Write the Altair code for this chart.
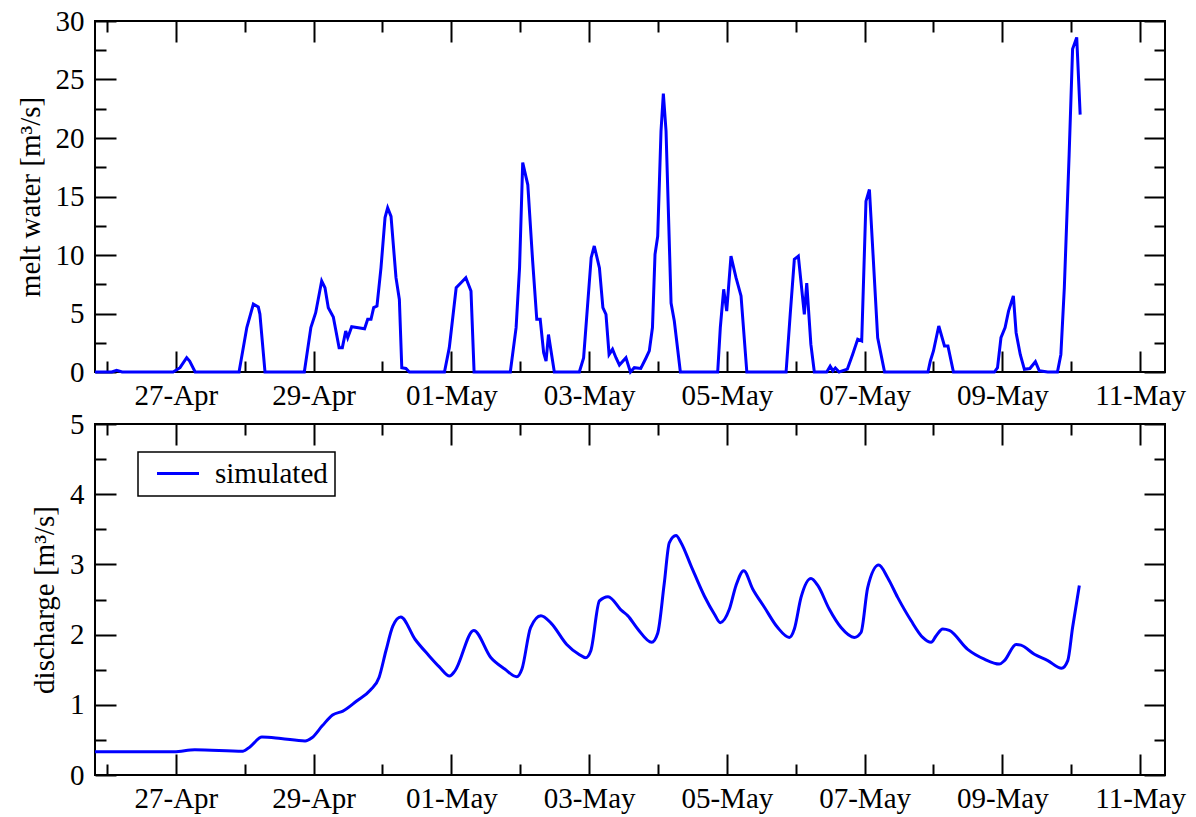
import altair as alt
import pandas as pd

# ---------------- data ----------------
# time given as days after 26-Apr 00:00
melt_days = [-0.174, 0.07, 0.14, 0.22, 0.96, 1.06, 1.157, 1.2, 1.28, 1.917, 2.03, 2.125, 2.197, 2.22, 2.294,
             2.865, 2.96, 3.03, 3.117, 3.165, 3.213, 3.286, 3.37, 3.417, 3.466, 3.495, 3.553, 3.65, 3.74, 3.785,
             3.833, 3.872, 3.92, 3.978, 4.037, 4.075, 4.124, 4.196, 4.245, 4.28, 4.34, 4.39, 4.9, 4.97, 5.07,
             5.14, 5.21, 5.285, 5.33, 5.856, 5.94, 5.99, 6.036, 6.11, 6.18, 6.24, 6.29, 6.34, 6.375, 6.41, 6.495,
             6.858, 6.92, 7.03, 7.075, 7.15, 7.2, 7.245, 7.29, 7.34, 7.39, 7.44, 7.535, 7.6, 7.656, 7.75, 7.826,
             7.874, 7.92, 7.957, 7.996, 8.044, 8.078, 8.117, 8.19, 8.237, 8.325, 8.867, 8.905, 8.954, 8.998,
             9.06, 9.133, 9.206, 9.29, 9.86, 9.92, 9.98, 10.038, 10.125, 10.16, 10.22, 10.27, 10.45, 10.5, 10.54,
             10.575, 10.63, 10.75, 10.826, 10.9, 10.958, 11.02, 11.07, 11.19, 11.29, 11.92, 11.955, 12.0, 12.077,
             12.16, 12.21, 12.29, 12.885, 12.93, 12.98, 13.04, 13.09, 13.16, 13.2, 13.26, 13.32, 13.4, 13.48,
             13.537, 13.66, 13.8, 13.85, 13.9, 13.97, 14.02, 14.08, 14.13]
melt_vals = [0, 0, 0.15, 0, 0, 0.37, 1.22, 0.94, 0, 0, 3.8, 5.8, 5.55, 4.95, 0,
             0, 3.8, 5.07, 7.78, 7.2, 5.5, 4.7, 2.08, 2.08, 3.5, 2.93, 3.87, 3.79, 3.7, 4.5,
             4.5, 5.5, 5.64, 8.9, 13.2, 14.04, 13.3, 8.06, 6.2, 0.37, 0.3, 0, 0, 2.08, 7.2,
             7.63, 8.06, 6.92, 0, 0, 3.79, 8.9, 17.9, 16.0, 9.5, 4.5, 4.5, 1.65, 0.94, 3.2, 0,
             0, 1.2, 9.77, 10.77, 8.9, 5.5, 4.93, 1.5, 1.94, 1.22, 0.6, 1.22, 0, 0.37, 0.3, 1.2,
             1.8, 3.8, 10.06, 11.6, 20.6, 23.8, 20.6, 5.9, 4.36, 0, 0, 3.8, 7.07, 5.2,
             9.9, 8.06, 6.5, 0, 0, 4.93, 9.63, 9.9, 4.93, 7.6, 2.36, 0, 0, 0.5, 0.1,
             0.35, 0, 0.25, 1.5, 2.8, 2.65, 14.6, 15.6, 2.93, 0, 0, 0.94, 1.8, 3.93,
             2.22, 2.22, 0, 0, 0.37, 2.93, 3.8, 5.2, 6.5, 3.36, 1.5, 0.23, 0.3, 0.88,
             0.1, 0, 0, 1.5, 7.2, 18.6, 27.6, 28.6, 22.0]

dis_days = [-0.175, 0.975, 1.275, 1.975, 2.075, 2.25, 2.525, 2.875, 2.975, 3.125, 3.275, 3.425, 3.625,
            3.825, 3.95, 4.05, 4.15, 4.265, 4.475, 4.675, 4.825, 4.975, 5.05, 5.325, 5.575, 5.775, 5.95,
            6.025, 6.15, 6.3, 6.45, 6.675, 6.85, 6.95, 7.025, 7.15, 7.275, 7.475, 7.56, 7.706, 7.909, 7.996,
            8.09, 8.165, 8.262, 8.335, 8.48, 8.673, 8.82, 8.905, 9.036, 9.133, 9.245, 9.375, 9.545, 9.738,
            9.907, 9.98, 10.077, 10.222, 10.32, 10.488, 10.658, 10.85, 10.948, 11.045, 11.205, 11.335, 11.48,
            11.674, 11.844, 11.965, 12.037, 12.134, 12.23, 12.497, 12.739, 12.956, 13.03, 13.2, 13.27, 13.465,
            13.66, 13.86, 13.95, 14.02, 14.118]
dis_vals = [0.332, 0.33, 0.36, 0.34, 0.40, 0.54, 0.52, 0.485, 0.53, 0.70, 0.855, 0.91, 1.055,
            1.21, 1.39, 1.77, 2.12, 2.25, 1.93, 1.70, 1.54, 1.41, 1.48, 2.06, 1.67, 1.51, 1.40,
            1.51, 2.10, 2.27, 2.16, 1.86, 1.72, 1.67, 1.77, 2.48, 2.54, 2.34, 2.27, 2.08, 1.89, 2.02,
            2.72, 3.31, 3.41, 3.31, 2.98, 2.55, 2.29, 2.17, 2.36, 2.70, 2.91, 2.65, 2.39, 2.10,
            1.96, 2.08, 2.53, 2.80, 2.70, 2.36, 2.10, 1.96, 2.03, 2.67, 2.99, 2.81, 2.53,
            2.20, 1.96, 1.89, 1.98, 2.08, 2.06, 1.79, 1.65, 1.58, 1.63, 1.86, 1.85, 1.72,
            1.63, 1.52, 1.63, 2.10, 2.70]

series_name = "simulated"
melt_title = "melt water [m³/s]"
dis_title = "discharge [m³/s]"
melt_major = [0, 5, 10, 15, 20, 25, 30]
melt_minor = [2.5, 7.5, 12.5, 17.5, 22.5, 27.5]
dis_major = [0, 1, 2, 3, 4, 5]
dis_minor = [0.5, 1.5, 2.5, 3.5, 4.5]

base_time = pd.Timestamp("2013-04-26")
melt = pd.DataFrame({"time": base_time + pd.to_timedelta(melt_days, unit="D"), "melt": melt_vals})
dis = pd.DataFrame({"time": base_time + pd.to_timedelta(dis_days, unit="D"), "q": dis_vals,
                    "series": series_name})

# ---------------- styling ----------------
FONT = "Liberation Serif"
FS = 29
W, H = 1070, 351
BLUE = "#0000ff"

x_domain = [alt.DateTime(year=2013, month=4, date=25, hours=19, minutes=49),
            alt.DateTime(year=2013, month=5, date=11, hours=8, minutes=41)]
all_days = [(4, d) for d in range(26, 31)] + [(5, d) for d in range(1, 12)]
major_days = [alt.DateTime(year=2013, month=m, date=d) for m, d in all_days if d % 2 == 1]
minor_days = [alt.DateTime(year=2013, month=m, date=d) for m, d in all_days if d % 2 == 0]


def tick_axis(orient, offset, values, size):
    return alt.Axis(orient=orient, offset=offset, values=values, labels=False, domain=False, grid=False,
                    ticks=True, tickSize=size, tickWidth=2, tickColor="black", title=None)


def panel(df, field, ymax, ymaj, ymin, ytitle, legend=False):
    xs = alt.Scale(domain=x_domain)
    ys = alt.Scale(domain=[0, ymax], nice=False)
    specs = [
        (tick_axis("top", -H, major_days, 21), tick_axis("right", -W, ymaj, 21)),
        (tick_axis("bottom", -H, major_days, 21), tick_axis("left", -W, ymaj, 21)),
        (tick_axis("top", -H, minor_days, 11), tick_axis("right", -W, ymin, 11)),
        (tick_axis("bottom", -H, minor_days, 11), tick_axis("left", -W, ymin, 11)),
    ]
    layers = [
        alt.Chart(df).mark_line(strokeOpacity=0).encode(
            x=alt.X("time:T", scale=xs, axis=ax),
            y=alt.Y(f"{field}:Q", scale=ys, axis=ay))
        for ax, ay in specs
    ]
    x_lab = alt.Axis(orient="bottom", values=major_days, format="%d-%b", ticks=False, tickSize=0,
                     domain=False, grid=False, labelFont=FONT, labelFontSize=FS, labelColor="black",
                     labelPadding=9, labelFlush=False, labelOverlap=False, labelBound=False, title=None)
    y_lab = alt.Axis(orient="left", values=ymaj, format="d", ticks=False, tickSize=0, domain=False,
                     grid=False, labelFont=FONT, labelFontSize=FS, labelColor="black", labelPadding=11,
                     title=ytitle, titleFont=FONT, titleFontSize=FS, titleFontWeight="normal",
                     titleColor="black", titlePadding=10)
    enc = dict(x=alt.X("time:T", scale=xs, axis=x_lab), y=alt.Y(f"{field}:Q", scale=ys, axis=y_lab))
    if legend:
        enc["color"] = alt.Color(
            "series:N", scale=alt.Scale(domain=[series_name], range=[BLUE]),
            legend=alt.Legend(orient="none", legendX=43, legendY=28, title=None,
                              symbolType="M-0.357,0L5.643,0", symbolSize=196, symbolStrokeWidth=3,
                              symbolStrokeColor=BLUE, labelFont=FONT, labelFontSize=FS, labelColor="black",
                              labelOffset=41, padding=7, strokeColor="black", fillColor="white"))
        line = alt.Chart(df).mark_line(strokeWidth=3, interpolate="monotone").encode(**enc)
    else:
        line = alt.Chart(df).mark_line(strokeWidth=3, color=BLUE).encode(**enc)
    return alt.layer(*layers, line).resolve_axis(x="independent", y="independent").properties(
        width=W, height=H)


top = panel(melt, "melt", 30, melt_major, melt_minor, melt_title)
bottom = panel(dis, "q", 5, dis_major, dis_minor, dis_title, legend=True)

chart = alt.vconcat(top, bottom, spacing=52, bounds="flush").resolve_scale(
    x="independent", y="independent", color="independent").resolve_axis(
    x="independent", y="independent").resolve_legend(color="independent").properties(
    padding={"left": 15, "top": 6, "right": 5, "bottom": 5}, background="white"
).configure_view(stroke="black", strokeWidth=2).configure_legend(strokeWidth=1.5)

chart.save("out.html", embed_options={"renderer": "svg", "actions": False})
